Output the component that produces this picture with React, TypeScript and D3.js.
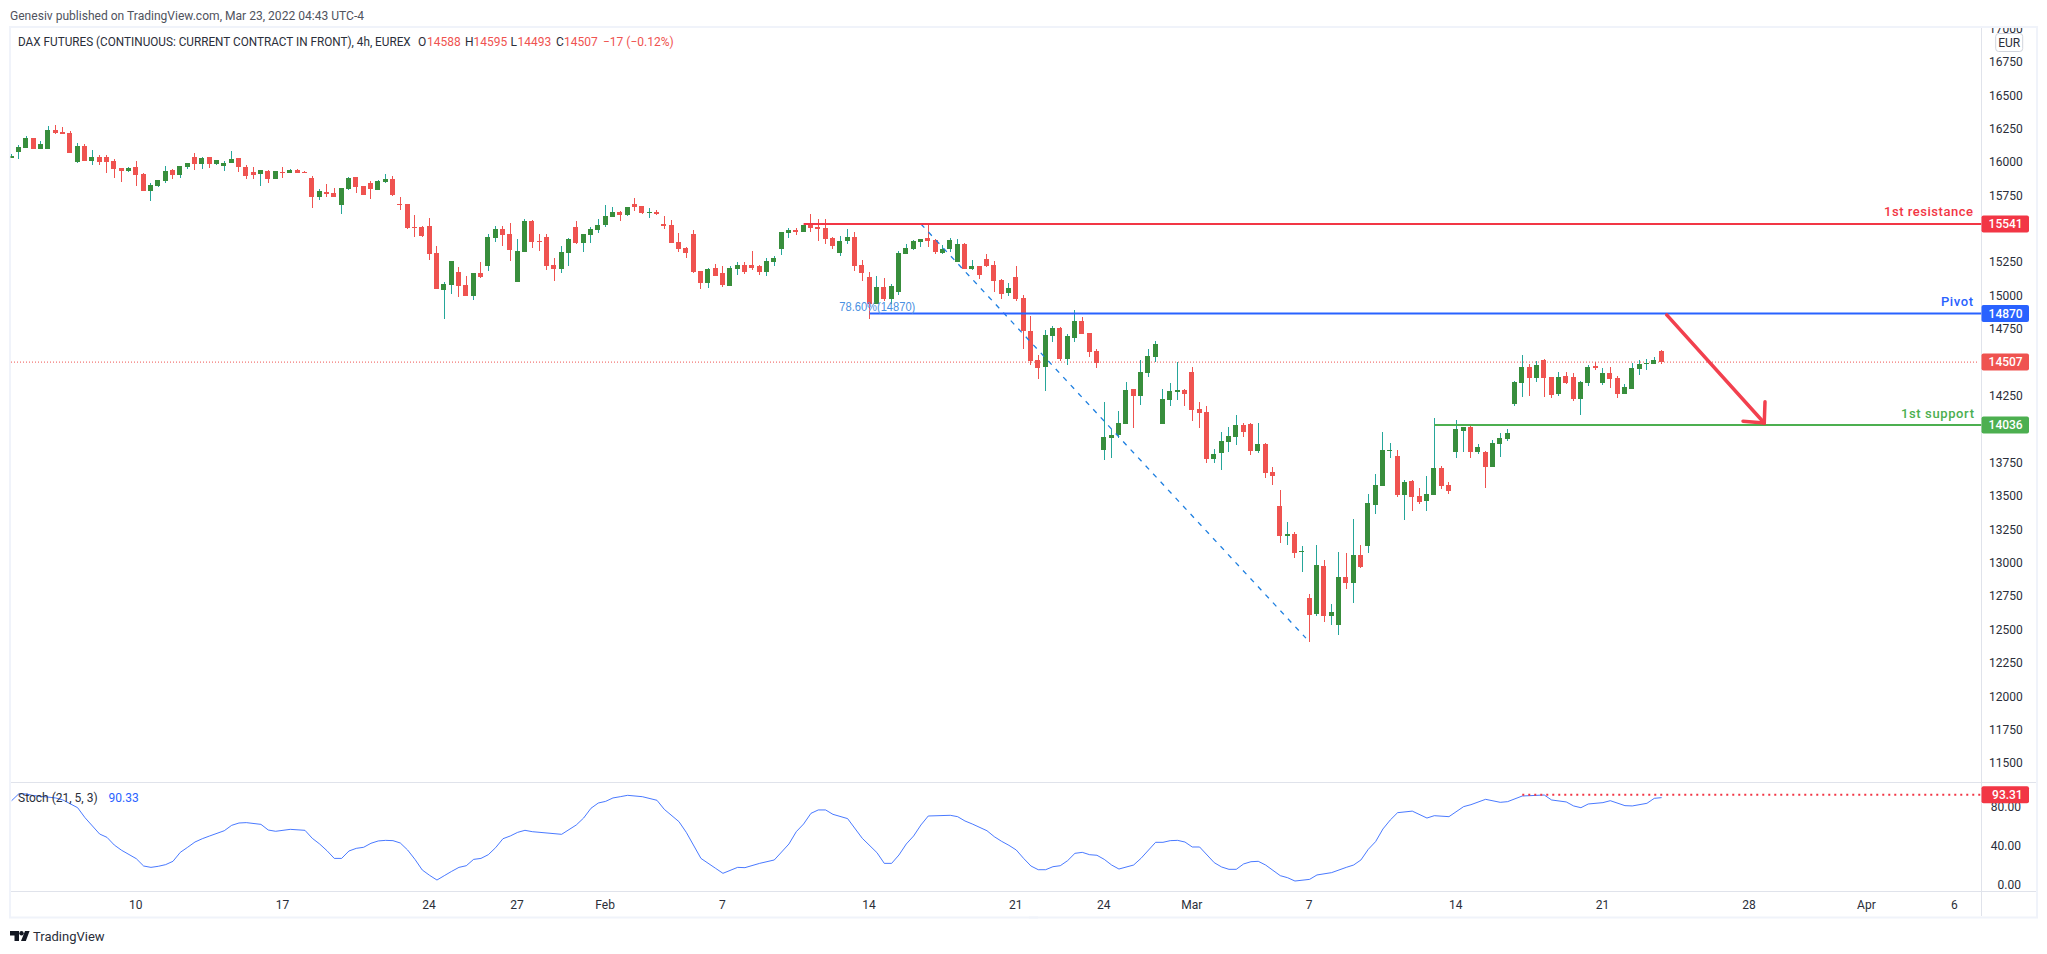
import React from "react";
import * as d3 from "d3";

// OHLC rows: [open, high, low, close]
const januaryCandles = [
[16035,16065,16035,16050],[16080,16133,16028,16118],[16110,16200,16110,16185],[16185,16185,16103,16103],[16103,16162,16103,16140],
[16103,16275,16103,16245],[16245,16282,16215,16222],[16230,16267,16215,16215],[16222,16237,16073,16073],[16005,16148,15998,16125],
[16125,16140,16013,16013],[16013,16095,15983,16043],[16043,16058,15983,16005],[16043,16058,15923,16005],[16013,16028,15885,15953],
[15960,15960,15855,15938],[15938,15968,15930,15960],[15968,16013,15826,15908],[15915,15923,15788,15788],[15788,15848,15713,15833],
[15826,15870,15818,15870],[15863,15975,15848,15938],[15945,15953,15878,15908],[15908,15975,15885,15975],[15968,15998,15953,15998],
[16043,16073,15945,15990],[15990,16043,15953,16035],[16043,16043,15960,15990],[15990,16020,15983,16020],[15975,16013,15938,15998],
[15998,16087,15998,16028],[16035,16035,15930,15968],[15968,15983,15878,15900],[15930,15968,15878,15908],[15915,15945,15826,15945],
[15938,15945,15848,15878],[15878,15938,15878,15938],[15930,15968,15885,15923],[15923,15953,15923,15945],[15945,15953,15923,15923],
[15930,15938,15923,15923],[15885,15900,15661,15743],[15743,15803,15721,15788],[15781,15840,15743,15766],[15773,15811,15743,15743],
[15683,15811,15616,15811],[15803,15893,15796,15885],[15893,15893,15773,15818],[15826,15826,15758,15758],[15848,15863,15728,15803],
[15796,15870,15796,15863],[15855,15915,15848,15878],[15878,15900,15751,15758],[15691,15743,15646,15683],[15691,15691,15504,15511],
[15519,15608,15444,15511],[15519,15526,15444,15451],[15526,15586,15271,15316],[15324,15376,15054,15054],[15047,15107,14830,15092],
[15084,15264,15017,15264],[15182,15219,14994,15077],[15084,15152,15002,15002],[15002,15174,14972,15174],[15174,15256,15137,15144],
[15227,15466,15189,15444],[15436,15526,15406,15504],[15504,15526,15376,15459],[15466,15548,15264,15346],[15107,15429,15107,15339],
[15331,15578,15331,15563],[15563,15571,15361,15406],[15414,15466,15339,15406],[15444,15466,15197,15227],[15234,15286,15114,15204],
[15204,15376,15174,15331],[15324,15436,15227,15429],[15518,15563,15391,15399],[15399,15466,15331,15466],[15459,15518,15399,15504],
[15496,15578,15474,15534],
];
const februaryCandles = [
[15534,15683,15518,15601],[15593,15668,15593,15631],[15631,15638,15563,15608],[15608,15668,15601,15668],[15691,15736,15638,15668],
[15676,15676,15616,15623],[15623,15661,15586,15631],[15631,15646,15608,15616],[15541,15601,15504,15526],[15534,15571,15399,15399],
[15406,15474,15331,15354],[15361,15369,15286,15324],[15466,15496,15174,15182],[15189,15189,15054,15099],[15099,15212,15062,15204],
[15212,15241,15152,15152],[15174,15227,15069,15084],[15077,15227,15077,15212],[15204,15256,15159,15234],[15234,15256,15167,15182],
[15234,15339,15197,15212],[15227,15234,15159,15182],[15182,15286,15152,15264],[15256,15301,15227,15286],[15354,15481,15309,15481],
[15474,15511,15436,15496],[15496,15511,15459,15481],[15481,15534,15481,15534],[15534,15616,15481,15511],[15518,15578,15414,15504],
[15511,15578,15391,15429],[15436,15444,15354,15376],[15324,15451,15301,15414],[15414,15504,15391,15444],[15444,15481,15189,15227],
[15234,15271,15114,15174],[15144,15182,14830,14942],[14942,15152,14942,15069],[15069,15137,14964,14979],[14979,15092,14942,15077],
[15032,15339,15009,15324],[15316,15391,15316,15361],[15354,15421,15346,15414],[15406,15429,15369,15429],[15436,15533,15369,15414],
[15421,15429,15316,15331],[15324,15384,15316,15354],[15354,15436,15331,15421],[15256,15429,15256,15391],[15391,15399,15204,15204],
[15204,15271,15197,15227],[15227,15227,15129,15159],[15279,15316,15219,15227],[15234,15264,15032,15114],[15122,15129,14979,15017],
[15024,15099,15002,15062],[15144,15227,14964,14979],[14987,15009,14605,14740],[14740,14852,14485,14515],[14523,14560,14380,14463],
[14470,14747,14290,14710],[14702,14777,14657,14762],[14762,14770,14515,14530],[14530,14717,14485,14702],[14687,14897,14657,14815],
[14815,14845,14717,14717],[14725,14725,14545,14583],[14590,14605,14463,14500],[13849,14208,13774,13946],[13939,14006,13789,13961],
[13961,14141,13939,14051],[14043,14358,14043,14298],[14305,14305,14013,14253],[14253,14523,14186,14433],[14425,14605,14395,14553],
[14545,14665,14508,14642],[14043,14305,14043,14231],[14223,14350,14178,14290],[14283,14505,14223,14298],[14298,14305,14178,14268],
];
const marchCandles = [
[14433,14470,14066,14148],[14156,14208,14013,14126],[14133,14178,13751,13781],[13781,13856,13751,13819],[13826,13984,13699,13916],
[13909,14021,13834,13954],[13946,14111,13886,14036],[14036,14051,13946,13983],[14043,14051,13811,13841],[13841,14051,13826,13894],
[13894,13901,13639,13677],[13684,13721,13587,13654],[13429,13549,13152,13205],[13205,13310,13137,13220],[13220,13235,13040,13077],
[13085,13130,12935,13092],[12741,12771,12411,12613],[12621,13137,12606,12988],[12980,13025,12561,12606],[12606,12696,12538,12636],
[12538,13085,12463,12898],[12898,13077,12808,12853],[12853,13332,12703,13062],[13062,13137,12965,12973],[13130,13519,13077,13452],
[13437,13669,13369,13587],[13579,13984,13579,13849],[13841,13901,13789,13849],[13804,13849,13497,13512],[13512,13624,13325,13609],
[13617,13624,13392,13497],[13504,13564,13444,13459],[13467,13654,13392,13519],[13512,14088,13512,13714],[13714,13729,13557,13579],
[13586,13609,13519,13542],[13834,14073,13789,14006],[13991,14021,13834,14021],[14021,14036,13789,13834],[13834,13893,13819,13871],
[13834,13841,13564,13721],[13721,13923,13721,13901],[13893,13976,13796,13938],[13931,14006,13916,13976],[14193,14365,14178,14358],
[14350,14560,14245,14470],[14470,14493,14253,14388],[14388,14515,14358,14485],[14522,14530,14245,14388],[14395,14395,14238,14260],
[14268,14433,14253,14395],[14403,14433,14343,14350],[14395,14425,14215,14230],[14230,14365,14111,14358],[14350,14485,14328,14470],
[14478,14507,14448,14463],[14350,14463,14335,14425],[14425,14470,14313,14380],[14388,14403,14238,14268],[14268,14343,14268,14320],
[14305,14500,14305,14463],[14455,14522,14410,14493],[14493,14530,14448,14500],[14493,14545,14493,14522],[14588,14595,14493,14507],
];

const stochBars = [1,2,3,4,7,8,10,11,13,14,15,16,18,19,20,21,22,23,24,25,26,27,28,30,31,32,33,35,36,37,39,41,42,43,44,45,46,47,48,49,50,51,52,53,54,55,56,57,58,59,60,61,62,63,64,65,66,67,68,69,70,71,72,76,78,79,80,81,82,83,84,85,87,89,90,92,93,95,97,98,100,101,103,105,107,108,109,110,111,112,113,115,117,119,120,121,122,123,124,125,126,129,130,131,132,134,135,136,137,138,139,140,141,142,143,144,145,146,147,148,149,150,151,152,154,155,157,158,159,160,161,162,163,165,166,167,168,169,170,171,172,174,175,176,178,179,181,183,184,185,186,187,188,189,190,192,194,195,197,199,200,202,204,205,207,210,211,213,214,215,216,218,219,221,222,224,225,226];
const stochValues = [87.2,94.4,94,92.4,90,87.9,80,69.8,53,49.6,41.7,36.3,27.7,20.2,18.8,19.9,21.6,25,34.2,39.4,44.8,48.2,51,56.4,61.9,64.3,64.7,62.9,57.1,55.8,57.8,56.8,48.6,42.8,35.9,28,28,35.6,38.3,39.4,43.5,45.9,46.5,46.2,43.8,36.6,27,16.1,10.6,5.8,10.3,14.7,18.8,20.5,27,28,31.8,39,48.2,51,54.7,56.8,55.4,52.7,62.3,69.4,79.4,84.8,86.5,90,91.3,92.7,91.3,87.6,78.3,65.7,54.7,28,17.8,12.7,18.8,18.5,22.9,26.4,42.8,55.4,63.3,74.2,77.7,77.7,73.2,68.8,48.6,33.9,22.9,22.9,31.5,42.8,51,62.3,71.5,72.2,70.8,66.4,63.3,56.4,50.3,45.5,41.4,36.6,28,20.2,16.4,16.4,19.5,20.5,25.7,33.2,34.2,31.8,31.2,27,21.2,17.1,21.2,28,44.5,44.5,46.2,46.5,44.8,39.7,39.7,23.6,19.2,16.8,16.8,22.3,24.6,25,21.2,10.3,8.2,4.8,6.5,11,13.4,18.8,21.2,26.4,37.3,45.2,58.2,67.4,74.9,76.5,69.4,71.8,70.8,81.1,83.1,88.6,85.5,86.2,92,93,87.9,85.9,81.8,80,83.8,85.2,87.2,82.1,81.8,84.5,89.6,90.33];

const priceTicks = [11500,11750,12000,12250,12500,12750,13000,13250,13500,13750,14000,14250,14750,15000,15250,15750,16000,16250,16500,16750,17000];
const stochTicks = [0, 40, 80];
const timeTickBars = [18, 38, 58, 70, 82, 98, 118, 138, 150, 162, 178, 198, 218, 238, 254, 266];
const timeTickLabels = ["10", "17", "24", "27", "Feb", "7", "14", "21", "24", "Mar", "7", "14", "21", "28", "Apr", "6"];

const resistance = 15541;
const pivot = 14870;
const support = 14036;
const lastPrice = 14507;
const stochLevel = 93.31;
const trendFrom = [125, 15541];
const trendTo = [177.5, 12440];
const arrowFrom = [226.7, 14860];
const arrowTip = [240, 14051];
const arrowArmA = [237.1, 14064];
const arrowArmB = [240.1, 14210];

const candles = [...januaryCandles, ...februaryCandles, ...marchCandles];

const W = 2047, H = 954;
const axisX = 1981.5;
const x = d3.scaleLinear().domain([0, 226]).range([4.3, 1661.6]);
const y = d3.scaleLinear().domain([14036, 15541]).range([425, 224]);
const ys = d3.scaleLinear().domain([0, 80]).range([885.7, 807.7]);

const UP = "#388e3c", UPW = "#26a69a", DOWN = "#ef5350";
const RED = "#f23645", BLUE = "#2962ff", GREEN = "#4caf50";
const FRAME = "#f0f3fa", SEP = "#e0e3eb", TXT = "#2a2e39";
const UI = "Roboto, sans-serif";

function Badge({ v, fill, label }: { v: number; fill: string; label: string }) {
  return (
    <g>
      <rect x={axisX} y={v - 8.5} width={47.5} height={17} rx={2} fill={fill} />
      <text x={2022.7} y={v} dy="0.36em" textAnchor="end" fontFamily={UI} fontSize={12} fontWeight={500} fill="#fff">{label}</text>
    </g>
  );
}

export default function App() {
  const stochLine = d3.line<number>().x((_, i) => x(stochBars[i])).y(d => ys(d))(stochValues) as string;
  return (
    <svg width={W} height={H} viewBox={`0 0 ${W} ${H}`} style={{ position: "fixed", left: 0, top: 0, display: "block", background: "#fff" }}>
      <defs>
        <clipPath id="main"><rect x={10.5} y={28} width={axisX - 10.5} height={754} /></clipPath>
        <clipPath id="sub"><rect x={10.5} y={783} width={axisX - 10.5} height={108} /></clipPath>
        <clipPath id="axis"><rect x={axisX} y={28} width={55} height={754} /></clipPath>
      </defs>

      <text x={10} y={19.5} fontFamily={UI} fontSize={12} fill="#50535e" textLength={354} lengthAdjust="spacingAndGlyphs">Genesiv published on TradingView.com, Mar 23, 2022 04:43 UTC-4</text>

      {/* frame */}
      <g fill={FRAME}>
        <rect x={9} y={26} width={1029} height={2} />
        <rect x={9} y={26} width={2} height={892} />
        <rect x={2036} y={26} width={2} height={892} />
        <rect x={9} y={916.5} width={1029} height={2} />
        <rect x={1029} y={26} width={1009} height={2} />
        <rect x={1029} y={916.5} width={1009} height={2} />
      </g>
      <line x1={11} x2={2036} y1={782.5} y2={782.5} stroke={SEP} />
      <line x1={11} x2={2036} y1={891.5} y2={891.5} stroke={SEP} />
      <line x1={axisX} x2={axisX} y1={28} y2={916} stroke={SEP} />

      <g clipPath="url(#main)">
        <line x1={11} x2={1979} y1={y(lastPrice)} y2={y(lastPrice)} stroke={DOWN} strokeDasharray="1 2" />
        <g shapeRendering="crispEdges">
          {candles.map((c, k) => {
            const [o, h, l, cl] = c;
            const up = cl >= o;
            const cx = x(k + 1);
            const top = y(Math.max(o, cl));
            const bot = y(Math.min(o, cl));
            return (
              <g key={k}>
                <rect x={Math.floor(cx)} y={y(h)} width={1} height={Math.max(1, y(l) - y(h))} fill={up ? UPW : DOWN} />
                <rect x={Math.floor(cx - 2.5)} y={top} width={5} height={Math.max(1, bot - top)} fill={up ? UP : DOWN} />
              </g>
            );
          })}
        </g>
        <line x1={x(trendFrom[0])} y1={y(trendFrom[1])} x2={x(trendTo[0])} y2={y(trendTo[1])} stroke="#1e7fe0" strokeWidth={1.3} strokeDasharray="5 6" />
        <line x1={x(109)} x2={axisX} y1={y(resistance)} y2={y(resistance)} stroke={RED} strokeWidth={2} />
        <line x1={x(118)} x2={axisX} y1={y(pivot)} y2={y(pivot)} stroke={BLUE} strokeWidth={2} />
        <line x1={x(195)} x2={axisX} y1={y(support)} y2={y(support)} stroke={GREEN} strokeWidth={2} />
        <text x={839.3} y={311} fontFamily="'Liberation Sans', sans-serif" fontSize={12} fill="#4a90e2" textLength={76} lengthAdjust="spacingAndGlyphs">78.60%(14870)</text>
        <g fontFamily="Roboto, sans-serif" fontSize={13} fontWeight={500} textAnchor="end">
          <text x={1973} y={216} fill={RED} textLength={89} lengthAdjust="spacing">1st resistance</text>
          <text x={1973} y={305.5} fill={BLUE} textLength={32} lengthAdjust="spacing">Pivot</text>
          <text x={1974} y={417.5} fill={GREEN} textLength={73} lengthAdjust="spacing">1st support</text>
        </g>
        <g stroke={RED} strokeWidth={3.5} fill="none" strokeLinecap="round" opacity={0.95}>
          <line x1={x(arrowFrom[0])} y1={y(arrowFrom[1])} x2={x(arrowTip[0])} y2={y(arrowTip[1])} />
          <line x1={x(arrowArmA[0])} y1={y(arrowArmA[1])} x2={x(arrowTip[0])} y2={y(arrowTip[1])} />
          <line x1={x(arrowArmB[0])} y1={y(arrowArmB[1])} x2={x(arrowTip[0])} y2={y(arrowTip[1])} />
        </g>
      </g>

      <g clipPath="url(#sub)">
        <path d={stochLine} fill="none" stroke={BLUE} strokeWidth={1} opacity={0.85} />
        <line x1={x(207)} x2={axisX} y1={ys(stochLevel)} y2={ys(stochLevel)} stroke={RED} strokeWidth={2} strokeDasharray="2 4" />
      </g>

      {/* legends */}
      <g fontFamily={UI} fontSize={12} fill={TXT}>
        <text x={18} y={45.5} textLength={392.7} lengthAdjust="spacingAndGlyphs">DAX FUTURES (CONTINUOUS: CURRENT CONTRACT IN FRONT), 4h, EUREX</text>
        <text x={418} y={45.5}>O</text><text x={427} y={45.5} fill={DOWN}>14588</text>
        <text x={465} y={45.5}>H</text><text x={473.5} y={45.5} fill={DOWN}>14595</text>
        <text x={510.5} y={45.5}>L</text><text x={517.5} y={45.5} fill={DOWN}>14493</text>
        <text x={556} y={45.5}>C</text><text x={564} y={45.5} fill={DOWN}>14507</text>
        <text x={603} y={45.5} fill={DOWN}>−17 (−0.12%)</text>
        <text x={18} y={802}>Stoch (21, 5, 3)</text>
        <text x={108.5} y={802} fill={BLUE}>90.33</text>
      </g>

      {/* price axis */}
      <g clipPath="url(#axis)" fontFamily={UI} fontSize={12} fill={TXT} textAnchor="end">
        {priceTicks.map(t => (
          <text key={t} x={2022.7} y={y(t)} dy="0.3em">{t}</text>
        ))}
      </g>
      <g fontFamily={UI} fontSize={12} fill={TXT} textAnchor="end">
        {stochTicks.map(t => (
          <text key={t} x={2021} y={ys(t)} dy="0.3em">{t.toFixed(2)}</text>
        ))}
      </g>
      <rect x={1995.7} y={33.5} width={27} height={18} rx={3} fill="#fff" stroke="#d1d4dc" />
      <text x={2009.2} y={42.5} dy="0.35em" textAnchor="middle" fontFamily={UI} fontSize={12} fill={TXT}>EUR</text>

      <Badge v={y(resistance)} fill={RED} label="15541" />
      <Badge v={y(pivot)} fill={BLUE} label="14870" />
      <Badge v={y(lastPrice)} fill={DOWN} label="14507" />
      <Badge v={y(support)} fill={GREEN} label="14036" />
      <Badge v={ys(stochLevel)} fill={RED} label="93.31" />

      {/* time axis */}
      <g fontFamily={UI} fontSize={12} fill={TXT} textAnchor="middle">
        {timeTickBars.map((b, i) => (
          <text key={i} x={x(b) - 0.5} y={905} dy="0.35em">{timeTickLabels[i]}</text>
        ))}
      </g>

      {/* logo */}
      <g fill="#131722">
        <path d="M10 931h9v10h-4.5v-5.5H10z" />
        <circle cx={21.5} cy={933.2} r={2.2} />
        <path d="M25 931h4.6l-3.8 10h-4.8z" />
      </g>
      <text x={33} y={941} fontFamily={UI} fontSize={13} fill="#2a2e39">TradingView</text>
    </svg>
  );
}
